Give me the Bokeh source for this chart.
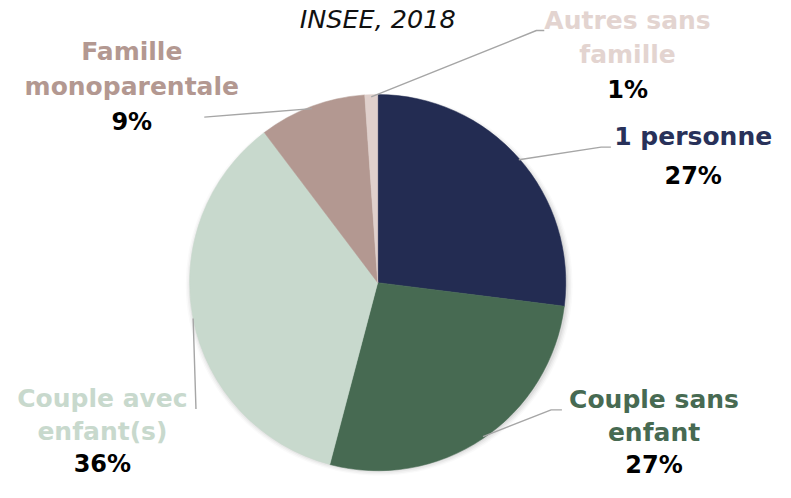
import math
from bokeh.plotting import figure
from bokeh.models import Range1d, ColumnDataSource
from bokeh.core.properties import value
from bokeh.embed import file_html
from bokeh.resources import INLINE

# ---- data ----
title = "INSEE, 2018"
categories = ["1 personne", "Couple sans enfant", "Couple avec enfant(s)",
              "Famille monoparentale", "Autres sans famille"]
shares = [27.0, 27.1, 35.6, 9.2, 1.1]
pct_labels = ["27%", "27%", "36%", "9%", "1%"]
label_lines = [["1 personne"], ["Couple sans", "enfant"], ["Couple avec", "enfant(s)"],
               ["Famille", "monoparentale"], ["Autres sans", "famille"]]
slice_colors = ["#232c52", "#476a52", "#c8d9cd", "#b39891", "#e0d0cc"]
text_colors = ["#283159", "#476a52", "#c8d9cd", "#b39891", "#e3d4d0"]

# ---- layout (reference frame 791 x 498, y downward) ----
W, H = 775, 482
RW, RH = 791, 498
def Y(sy):
    return RH - sy

CX, CY, R = 385, 291.5, 192
# label block: (x center, [y of each text line], y of percent)
label_pos = [
    (707, [141], 181),
    (667, [412, 446], 480),
    (104, [411, 445], 479),
    (134, [53, 89], 126),
    (640, [21, 56], 92),
]
# leader end points (elbow, end)
leader_ends = [
    [(613, 151.5), (623, 151.5)],
    [(562, 423), (573, 423)],
    [(199.5, 422)],
    [(208, 120.5)],
    [(547, 31), (555, 31)],
]

p = figure(width=W, height=H, output_backend="svg", toolbar_location=None,
           x_range=Range1d(0, RW), y_range=Range1d(0, RH),
           min_border=0, outline_line_color=None)
p.axis.visible = False
p.grid.visible = False
p.background_fill_color = "white"
p.border_fill_color = "white"

# soft shadow
for i, a in enumerate([0.05, 0.04, 0.03, 0.02]):
    p.ellipse(x=[CX + 1.5], y=[Y(CY + 2)], width=2 * (R + 1 + i * 1.5),
              height=2 * (R + 1 + i * 1.5),
              fill_color="#000000", fill_alpha=a, line_color=None)

total = sum(shares)
starts, ends, mids = [], [], []
cum = 0.0
for s in shares:
    f0 = cum / total
    cum += s
    f1 = cum / total
    starts.append(math.pi / 2 - 2 * math.pi * f0)
    ends.append(math.pi / 2 - 2 * math.pi * f1)
    mids.append((f0 + f1) / 2)

src = ColumnDataSource(dict(start=starts, end=ends, color=slice_colors, cat=categories))
p.wedge(x=CX, y=Y(CY), radius=R, start_angle="start", end_angle="end",
        direction="clock", fill_color="color", line_color="color", line_width=0.5,
        source=src)

# leader lines
for i, fm in enumerate(mids):
    ang = 2 * math.pi * fm
    sx = CX + R * math.sin(ang)
    sy = CY - R * math.cos(ang)
    pts = [(sx, sy)] + leader_ends[i]
    p.line(x=[q[0] for q in pts], y=[Y(q[1]) for q in pts],
           line_color="#a6a6a6", line_width=1.4)

FONT = value("DejaVu Sans")
for i in range(len(categories)):
    x, ys, py = label_pos[i]
    p.text(x=[x] * len(ys), y=[Y(v) for v in ys], text=label_lines[i],
           text_font=FONT, text_font_size="25px", text_font_style="bold",
           text_color=text_colors[i], text_align="center", text_baseline="middle")
    p.text(x=[x], y=[Y(py)], text=[pct_labels[i]],
           text_font=FONT, text_font_size="24px", text_font_style="bold",
           text_color="#000000", text_align="center", text_baseline="middle")

p.text(x=[385], y=[Y(19)], text=[title], text_font=FONT, text_font_size="25.5px",
       text_font_style="italic", text_color="#111111",
       text_align="center", text_baseline="middle")

open("out.html", "w").write(file_html(p, INLINE))
